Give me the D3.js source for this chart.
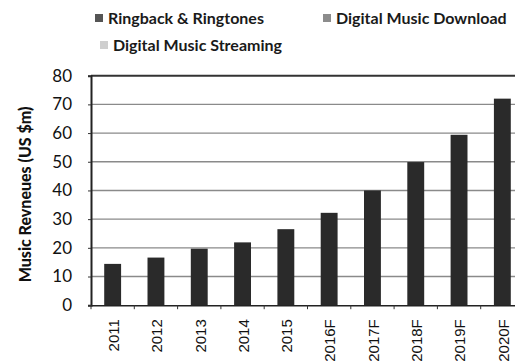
<!DOCTYPE html>
<html>
<head>
<meta charset="utf-8">
<script src="https://cdnjs.cloudflare.com/ajax/libs/d3/7.8.5/d3.min.js"></script>
<style>
  html, body { margin: 0; padding: 0; background: #fff; }
  svg { display: block; font-family: Lato, "Open Sans", sans-serif; }
</style>
</head>
<body>
<svg id="chart" width="515" height="364"></svg>
<script>
// Music revenue by year (US $m), forecasts marked with F
const years = ["2011", "2012", "2013", "2014", "2015", "2016F", "2017F", "2018F", "2019F", "2020F"];
const revenue = [14.4, 16.6, 19.7, 21.9, 26.5, 32.2, 40.0, 49.9, 59.4, 72.0];
const seriesNames = ["Ringback & Ringtones", "Digital Music Download", "Digital Music Streaming"];
const seriesColors = ["#555555", "#8c8c8c", "#cfcfcf"];
const yTicks = [0, 10, 20, 30, 40, 50, 60, 70, 80];

const svg = d3.select("#chart");
const plot = { left: 91, right: 524, top: 75.7, bottom: 305.2 };

const x = d3.scaleBand().domain(years).range([plot.left, plot.right]).paddingInner(0.61).paddingOuter(0.305);
const y = d3.scaleLinear().domain([0, 80]).range([plot.bottom, plot.top]);

// horizontal gridlines
svg.append("g")
  .selectAll("line")
  .data(yTicks.filter(d => d > 0 && d < 80))
  .join("line")
  .attr("x1", plot.left).attr("x2", plot.right)
  .attr("y1", d => y(d)).attr("y2", d => y(d))
  .attr("stroke", "#8a8a8a").attr("stroke-width", 1.4);

// top border at 80
svg.append("line")
  .attr("x1", plot.left).attr("x2", plot.right)
  .attr("y1", y(80)).attr("y2", y(80))
  .attr("stroke", "#333").attr("stroke-width", 2);

// bars
svg.append("g")
  .selectAll("rect")
  .data(years.map((yr, i) => ({ yr, v: revenue[i] })))
  .join("rect")
  .attr("x", d => x(d.yr))
  .attr("width", x.bandwidth())
  .attr("y", d => y(d.v))
  .attr("height", d => y(0) - y(d.v))
  .attr("fill", "#2a2a2a");

// y axis
const yAxis = svg.append("g")
  .attr("transform", `translate(${plot.left},0)`)
  .call(d3.axisLeft(y).tickValues(yTicks).tickSize(3).tickPadding(16));
yAxis.select(".domain").attr("stroke", "#222").attr("stroke-width", 2);
yAxis.selectAll(".tick line").attr("stroke", "#333");
yAxis.selectAll("text").attr("font-size", 17).attr("fill", "#111").attr("font-family", "Lato, sans-serif");

// x axis
const xAxis = svg.append("g")
  .attr("transform", `translate(0,${plot.bottom})`)
  .call(d3.axisBottom(x).tickSize(0).tickPadding(0));
xAxis.select(".domain").attr("stroke", "#222").attr("stroke-width", 1.5);
xAxis.selectAll("text")
  .attr("font-size", 15).attr("fill", "#111")
  .attr("transform", "rotate(-90)")
  .attr("text-anchor", "end")
  .attr("x", -14).attr("y", 1)
  .attr("dy", "0.35em");

// small ticks between categories on x axis
svg.append("g")
  .selectAll("line")
  .data(d3.range(years.length + 1))
  .join("line")
  .attr("x1", i => plot.left + i * x.step())
  .attr("x2", i => plot.left + i * x.step())
  .attr("y1", plot.bottom).attr("y2", plot.bottom + 4)
  .attr("stroke", "#333");

// y axis title
svg.append("text")
  .attr("transform", `translate(31,${(plot.top + plot.bottom) / 2 + 4}) rotate(-90)`)
  .attr("text-anchor", "middle")
  .attr("font-size", 16).attr("font-weight", "900").attr("fill", "#111")
  .text("Music Revneues (US $m)");

// legend
const legendPos = [[95, 24], [323, 24], [100, 51]];
const legend = svg.append("g")
  .selectAll("g")
  .data(seriesNames.map((n, i) => ({ n, c: seriesColors[i], p: legendPos[i] })))
  .join("g")
  .attr("transform", d => `translate(${d.p[0]},${d.p[1]})`);
legend.append("rect")
  .attr("x", 0).attr("y", -10).attr("width", 8).attr("height", 8)
  .attr("fill", d => d.c);
legend.append("text")
  .attr("x", 13).attr("y", 0)
  .attr("font-size", 16).attr("font-weight", "bold").attr("fill", "#1a1a1a")
  .text(d => d.n);
</script>
</body>
</html>
